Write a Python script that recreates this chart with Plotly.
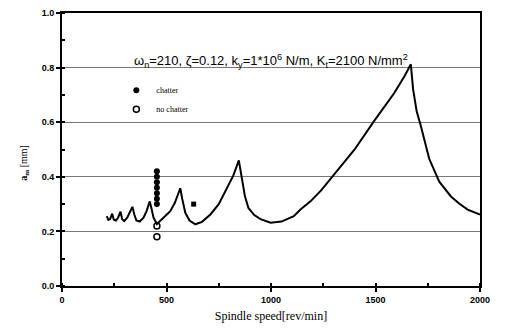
import plotly.graph_objects as go

# Stability lobe curve (spindle speed rev/min, a_m mm)
speed = [214, 222, 230, 240, 248, 258, 268, 280, 288, 298, 312, 325, 337, 346, 356, 372,
         390, 405, 420, 428, 438, 454, 470, 495, 518, 540, 566, 575, 590, 610, 638, 670,
         710, 750, 790, 820, 846, 858, 875, 892, 920, 950, 998, 1050, 1109, 1141, 1189, 1240,
         1301, 1400, 1493, 1589, 1640, 1669, 1680, 1697, 1717, 1757, 1805, 1861, 1900, 1941, 2000]
a_m = [0.256, 0.242, 0.245, 0.265, 0.243, 0.240, 0.250, 0.272, 0.245, 0.238, 0.250, 0.270,
       0.290, 0.262, 0.240, 0.236, 0.250, 0.275, 0.310, 0.285, 0.250, 0.227, 0.238, 0.255,
       0.274, 0.305, 0.358, 0.320, 0.268, 0.240, 0.226, 0.235, 0.262, 0.300, 0.358, 0.405,
       0.460, 0.405, 0.330, 0.286, 0.260, 0.245, 0.232, 0.236, 0.256, 0.280, 0.310, 0.350,
       0.406, 0.500, 0.604, 0.706, 0.770, 0.812, 0.720, 0.640, 0.586, 0.466, 0.382, 0.328, 0.302, 0.280, 0.262]

chatter_speed = [454, 454, 454, 454, 454, 454, 454]
chatter_a = [0.42, 0.40, 0.38, 0.36, 0.34, 0.32, 0.30]
nochatter_speed = [454, 454]
nochatter_a = [0.22, 0.18]
extra_speed = [630]
extra_a = [0.30]

x_ticks = [0, 500, 1000, 1500, 2000]
y_ticks = [0, 0.2, 0.4, 0.6, 0.8, 1.0]
y_ticklabels = ["0.0", "0.2", "0.4", "0.6", "0.8", "1.0"]

title_text = ("ω<sub>n</sub>=210, ζ=0.12, k<sub>y</sub>=1*10<sup>6</sup> N/m, "
              "K<sub>t</sub>=2100 N/mm<sup>2</sup>")

fig = go.Figure()
fig.add_trace(go.Scatter(x=speed, y=a_m, mode="lines", line=dict(color="black", width=2),
                         showlegend=False, hoverinfo="skip"))
fig.add_trace(go.Scatter(x=chatter_speed, y=chatter_a, mode="markers", name="chatter",
                         marker=dict(symbol="circle", size=6, color="black")))
fig.add_trace(go.Scatter(x=nochatter_speed, y=nochatter_a, mode="markers", name="no chatter",
                         marker=dict(symbol="circle-open", size=6, color="black",
                                     line=dict(width=1.5))))
fig.add_trace(go.Scatter(x=extra_speed, y=extra_a, mode="markers", showlegend=False,
                         marker=dict(symbol="square", size=5, color="black")))

fig.update_layout(
    width=505, height=333,
    margin=dict(l=62, r=25, t=8, b=47),
    paper_bgcolor="white", plot_bgcolor="white",
    font=dict(family="Liberation Sans, Arial", color="black", size=9),
    legend=dict(x=0.13, y=0.77, xanchor="left", yanchor="top",
                bgcolor="rgba(0,0,0,0)",
                font=dict(family="Liberation Serif", size=8, color="black"),
                tracegroupgap=2, itemwidth=30),
    xaxis=dict(range=[0, 2000], tickvals=x_ticks,
               ticktext=[f"<b>{v}</b>" for v in x_ticks],
               ticks="outside", ticklen=4, tickwidth=1.5, tickcolor="black",
               showgrid=False, zeroline=False,
               showline=True, linecolor="black", linewidth=2, mirror=True,
               tickfont=dict(family="Liberation Sans, Arial", size=9),
               minor=dict(dtick=250, ticks="inside", ticklen=3, tickcolor="black"),
               title=dict(text="Spindle speed[rev/min]",
                          font=dict(family="Liberation Serif", size=12), standoff=8)),
    yaxis=dict(range=[0, 1.0], tickvals=y_ticks,
               ticktext=[f"<b>{t}</b>" for t in y_ticklabels],
               ticks="outside", ticklen=4, tickwidth=1.5, tickcolor="black",
               showgrid=True, gridcolor="#777777", gridwidth=1, zeroline=False,
               showline=True, linecolor="black", linewidth=2, mirror=True,
               tickfont=dict(family="Liberation Sans, Arial", size=9),
               minor=dict(dtick=0.1, ticks="inside", ticklen=3, tickcolor="black",
                          showgrid=False)),
    annotations=[
        dict(text=title_text, x=0.5, y=0.865, xref="paper", yref="paper",
             showarrow=False, font=dict(family="Liberation Sans, Arial", size=13)),
        dict(text="<b>a<sub>m</sub></b> [mm]", x=-0.11, y=0.45, xref="paper", yref="paper",
             textangle=-90, showarrow=False,
             font=dict(family="Liberation Serif", size=10)),
    ],
)

fig.write_html("out.html")
